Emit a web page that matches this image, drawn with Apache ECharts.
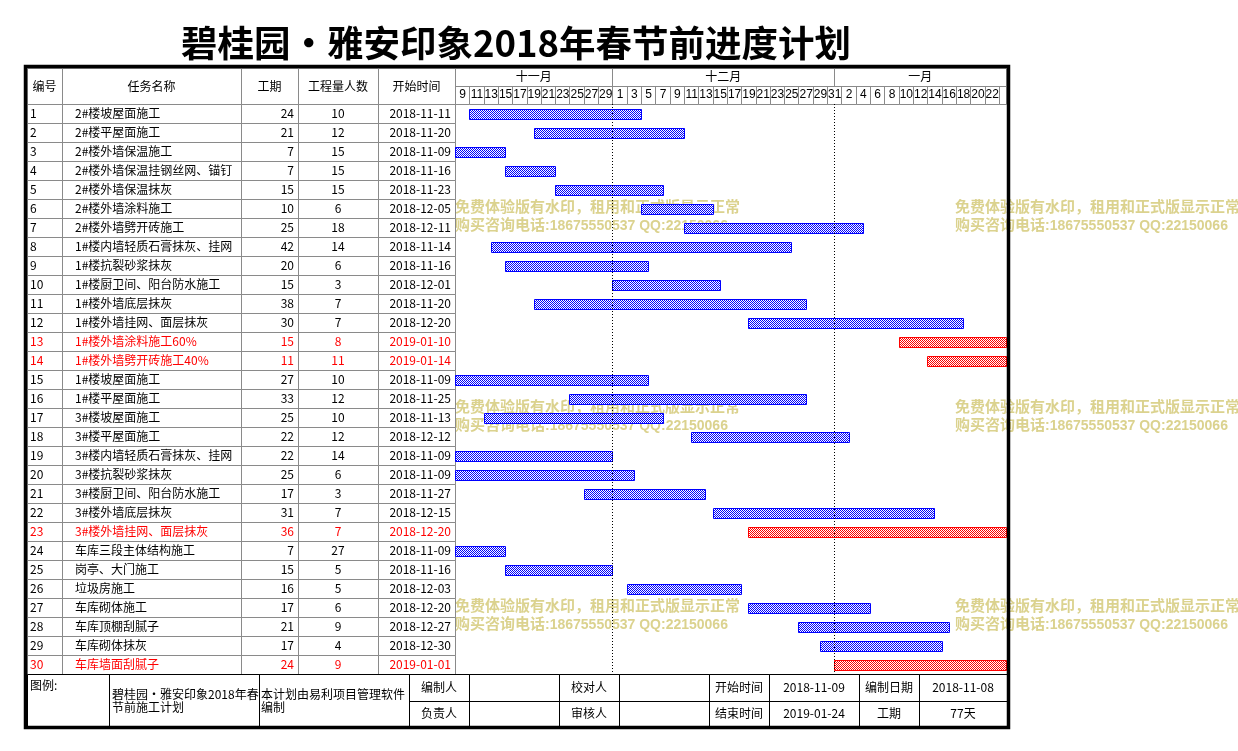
<!DOCTYPE html>
<html><head><meta charset="utf-8">
<script src="https://cdn.jsdelivr.net/npm/echarts@6/dist/echarts.min.js"></script>
<style>html,body{margin:0;padding:0;background:#fff}#c{width:1238px;height:751px}</style>
</head><body><div id="c"></div>
<script>
// ---------------- data ----------------
const chartTitle = '碧桂园•雅安印象2018年春节前进度计划';
const headerLabels = ['编号', '任务名称', '工期', '工程量人数', '开始时间'];
const taskIds = [1,2,3,4,5,6,7,8,9,10,11,12,13,14,15,16,17,18,19,20,21,22,23,24,25,26,27,28,29,30];
const taskNames = [
  '2#楼坡屋面施工','2#楼平屋面施工','2#楼外墙保温施工','2#楼外墙保温挂钢丝网、锚钉','2#楼外墙保温抹灰',
  '2#楼外墙涂料施工','2#楼外墙劈开砖施工','1#楼内墙轻质石膏抹灰、挂网','1#楼抗裂砂浆抹灰','1#楼厨卫间、阳台防水施工',
  '1#楼外墙底层抹灰','1#楼外墙挂网、面层抹灰','1#楼外墙涂料施工60%','1#楼外墙劈开砖施工40%','1#楼坡屋面施工',
  '1#楼平屋面施工','3#楼坡屋面施工','3#楼平屋面施工','3#楼内墙轻质石膏抹灰、挂网','3#楼抗裂砂浆抹灰',
  '3#楼厨卫间、阳台防水施工','3#楼外墙底层抹灰','3#楼外墙挂网、面层抹灰','车库三段主体结构施工','岗亭、大门施工',
  '垃圾房施工','车库砌体施工','车库顶棚刮腻子','车库砌体抹灰','车库墙面刮腻子'];
const durations = [24,21,7,7,15,10,25,42,20,15,38,30,15,11,27,33,25,22,22,25,17,31,36,7,15,16,17,21,17,24];
const workers   = [10,12,15,15,15,6,18,14,6,3,7,7,8,11,10,12,10,12,14,6,3,7,7,27,5,5,6,9,4,9];
const startDates = [
  '2018-11-11','2018-11-20','2018-11-09','2018-11-16','2018-11-23','2018-12-05','2018-12-11','2018-11-14',
  '2018-11-16','2018-12-01','2018-11-20','2018-12-20','2019-01-10','2019-01-14','2018-11-09','2018-11-25',
  '2018-11-13','2018-12-12','2018-11-09','2018-11-09','2018-11-27','2018-12-15','2018-12-20','2018-11-09',
  '2018-11-16','2018-12-03','2018-12-20','2018-12-27','2018-12-30','2019-01-01'];
const criticalTasks = [13,14,23,30];
const projectStart = '2018-11-09';
const projectEnd = '2019-01-24';
const monthLabels = ['十一月','十二月','一月'];
const monthStarts = ['2018-11-09','2018-12-01','2019-01-01'];
const dayTickLabels = ['9','11','13','15','17','19','21','23','25','27','29',
  '1','3','5','7','9','11','13','15','17','19','21','23','25','27','29','31',
  '2','4','6','8','10','12','14','16','18','20','22',''];
const footerLeft = ['图例:', '碧桂园•雅安印象2018年春\n节前施工计划', '本计划由易利项目管理软件\n编制'];
const footerRow1 = ['编制人','','校对人','','开始时间','2018-11-09','编制日期','2018-11-08'];
const footerRow2 = ['负责人','','审核人','','结束时间','2019-01-24','工期','77天'];
const watermarkLine1 = '免费体验版有水印，租用和正式版显示正常';
const watermarkLine2 = ['购买咨询电话', ':18675550537 QQ:22150066'];

// ---------------- helpers / layout ----------------
const FONT = '"Noto Sans CJK SC", "Liberation Sans", sans-serif';
const WM_FONT = '"Liberation Sans", "Noto Sans CJK SC", sans-serif';
const DAY = 86400000;
function utc(s){ const p = s.split('-').map(Number); return Date.UTC(p[0], p[1]-1, p[2]); }
const t0 = utc(projectStart);
function dayOffset(s){ return Math.round((utc(s) - t0) / DAY); }
const totalDays = dayOffset(projectEnd) + 1;

const colEdges = [0, 35, 214, 271, 351, 428];
const footEdges = [0, 82, 232, 382, 442, 532, 592, 682, 742, 832, 892, 980];
const GRAY = '#8a8a8a';

function crisp(x0, y0, x1, y1){
  const a = Math.round(x0), b = Math.round(y0), c = Math.round(x1), d = Math.round(y1);
  return {x: a + 0.5, y: b + 0.5, width: c - a, height: d - b};
}
function txt(x, y, text, align, valign, color, extra){
  return Object.assign({type:'text', x: x, y: y, silent:true, style: Object.assign({
    text: text, fill: color || '#000', fontSize: 12, fontFamily: FONT,
    align: align, verticalAlign: valign, textAlign: align, textVerticalAlign: valign
  }, extra || {})});
}
function checker(color){
  const c = document.createElement('canvas'); c.width = 2; c.height = 2;
  const g = c.getContext('2d');
  g.fillStyle = '#fff'; g.fillRect(0,0,2,2);
  g.fillStyle = color; g.fillRect(0,0,1,1); g.fillRect(1,1,1,1);
  return c;
}
const bluePat = {image: checker('#0000ff'), repeat: 'repeat'};
const redPat = {image: checker('#ff0000'), repeat: 'repeat'};

// ---------------- series ----------------
const tableBody = {
  type: 'custom', xAxisIndex: 2, yAxisIndex: 2, silent: true,
  data: taskIds.map((id, i) => [0, i]),
  renderItem: function(params, api){
    const i = params.dataIndex;
    const yc = api.coord([0, i])[1];
    const h = api.size([0, 1])[1];
    const xs = colEdges.map(e => api.coord([e, i])[0]);
    const y0 = yc - h/2, y1 = yc + h/2;
    const red = criticalTasks.indexOf(taskIds[i]) >= 0;
    const col = red ? '#ff0000' : '#000';
    const ch = [];
    for (let c = 0; c < 5; c++) {
      ch.push({type:'rect', shape: crisp(xs[c], y0, xs[c+1], y1), style:{fill:null, stroke:GRAY, lineWidth:1}});
    }
    ch.push(txt(xs[0] + 3, yc, String(taskIds[i]), 'left', 'middle', col));
    ch.push(txt(xs[1] + 13, yc, taskNames[i], 'left', 'middle', col));
    ch.push(txt(xs[3] - 4, yc, String(durations[i]), 'right', 'middle', col));
    ch.push(txt((xs[3] + xs[4]) / 2, yc, String(workers[i]), 'center', 'middle', col));
    ch.push(txt(xs[5] - 4, yc, startDates[i], 'right', 'middle', col));
    return {type:'group', children: ch};
  }
};

const tableHead = {
  type: 'custom', xAxisIndex: 3, yAxisIndex: 3, silent: true,
  data: [[0, 0]],
  renderItem: function(params, api){
    const xs = colEdges.map(e => api.coord([e, 0])[0]);
    const y0 = api.coord([0, 0])[1], y1 = api.coord([0, 1])[1];
    const ch = [];
    for (let c = 0; c < 5; c++) {
      ch.push({type:'rect', shape: crisp(xs[c], y0, xs[c+1], y1), style:{fill:null, stroke:GRAY, lineWidth:1}});
      ch.push(txt((xs[c] + xs[c+1]) / 2, (y0 + y1) / 2, headerLabels[c], 'center', 'middle'));
    }
    return {type:'group', children: ch};
  }
};

const monthOffsets = monthStarts.map(dayOffset);
const timelineMonths = {
  type: 'custom', xAxisIndex: 1, yAxisIndex: 1, silent: true,
  data: monthOffsets.map(o => [o, 0]),
  renderItem: function(params, api){
    const k = params.dataIndex;
    const s = api.value(0);
    const e = k + 1 < monthOffsets.length ? monthOffsets[k+1] : totalDays;
    const x0 = api.coord([s, 0])[0], x1 = api.coord([e, 0])[0];
    const y0 = api.coord([s, 0])[1], y1 = api.coord([s, 1])[1];
    return {type:'group', children:[
      {type:'rect', shape: crisp(x0, y0, x1, y1), style:{fill:null, stroke:GRAY, lineWidth:1}},
      txt((x0 + x1) / 2, (y0 + y1) / 2 - 1, monthLabels[k], 'center', 'middle')
    ]};
  }
};

const timelineDays = {
  type: 'custom', xAxisIndex: 1, yAxisIndex: 1, silent: true,
  data: dayTickLabels.map((l, k) => [k * 2, 1]),
  renderItem: function(params, api){
    const k = params.dataIndex;
    const s = api.value(0);
    const e = Math.min(s + 2, totalDays);
    const x0 = api.coord([s, 1])[0], x1 = api.coord([e, 1])[0];
    const y0 = api.coord([s, 1])[1], y1 = api.coord([s, 2])[1];
    return {type:'group', children:[
      {type:'rect', shape: crisp(x0, y0, x1, y1), style:{fill:null, stroke:GRAY, lineWidth:1}},
      txt((x0 + x1) / 2 + 0.5, (y0 + y1) / 2, dayTickLabels[k], 'center', 'middle', '#000', {fontFamily: '"Liberation Sans", sans-serif'})
    ]};
  }
};

const bars = {
  type: 'custom', xAxisIndex: 0, yAxisIndex: 0, silent: true, z: 3,
  data: taskIds.map((id, i) => [dayOffset(startDates[i]), i, durations[i]]),
  encode: {x: 0, y: 1},
  renderItem: function(params, api){
    const i = api.value(1);
    const s = api.value(0), d = api.value(2);
    const p0 = api.coord([s, i]);
    const p1 = api.coord([Math.min(s + d, totalDays), i]);
    const red = criticalTasks.indexOf(taskIds[i]) >= 0;
    const h = 10;
    return {type:'rect', shape: crisp(p0[0], p0[1] - h/2, p1[0], p0[1] + h/2),
      style: {fill: red ? redPat : bluePat, stroke: red ? '#ff0000' : '#0000ff', lineWidth: 1}};
  },
  markLine: {
    silent: true, symbol: ['none', 'none'], label: {show: false}, animation: false,
    lineStyle: {color: '#000', type: [1, 2], width: 1},
    data: monthOffsets.slice(1).map(o => ({xAxis: o}))
  }
};

const footer = {
  type: 'custom', xAxisIndex: 4, yAxisIndex: 4, silent: true,
  data: [[0, 0]],
  renderItem: function(params, api){
    const xs = footEdges.map(e => api.coord([e, 0])[0]);
    const ys = [0, 1, 2].map(r => api.coord([0, r])[1]);
    const ch = [];
    for (let k = 0; k < 3; k++) {
      ch.push({type:'rect', shape: crisp(xs[k], ys[0], xs[k+1], ys[2]), style:{fill:null, stroke:'#000', lineWidth:1}});
    }
    ch.push(txt(xs[0] + 3, ys[0] + 5, footerLeft[0], 'left', 'top'));
    ch.push(txt(xs[1] + 3, (ys[0] + ys[2]) / 2, footerLeft[1], 'left', 'middle', '#000', {lineHeight: 13}));
    ch.push(txt(xs[2] + 2, (ys[0] + ys[2]) / 2, footerLeft[2], 'left', 'middle', '#000', {lineHeight: 13}));
    const rows = [footerRow1, footerRow2];
    for (let r = 0; r < 2; r++) {
      for (let c = 3; c < footEdges.length - 1; c++) {
        ch.push({type:'rect', shape: crisp(xs[c], ys[r], xs[c+1], ys[r+1]), style:{fill:null, stroke:'#000', lineWidth:1}});
        const t = rows[r][c - 3];
        if (t) ch.push(txt((xs[c] + xs[c+1]) / 2, (ys[r] + ys[r+1]) / 2, t, 'center', 'middle'));
      }
    }
    return {type:'group', children: ch};
  }
};

// watermark + frame + title (decoration)
const WM_COLOR = '#dbd28e';
const graphics = [];
[455, 955].forEach(x => {
  [208, 408, 607].forEach(y => {
    graphics.push({type:'text', x: x, y: y, z: 1, silent: true,
      style: {text: watermarkLine1, fill: WM_COLOR, fontSize: 15, fontWeight: 'bold', fontFamily: WM_FONT,
        align: 'left', verticalAlign: 'middle', textAlign: 'left', textVerticalAlign: 'middle'}});
    graphics.push({type:'text', x: x, y: y + 18, z: 1, silent: true,
      style: {text: '{a|' + watermarkLine2[0] + '}{b|' + watermarkLine2[1] + '}',
        fill: WM_COLOR, fontWeight: 'bold', fontFamily: WM_FONT,
        align: 'left', verticalAlign: 'middle', textAlign: 'left', textVerticalAlign: 'middle',
        rich: {
          a: {fontSize: 15, fontWeight: 'bold', fontFamily: WM_FONT, fill: WM_COLOR, color: WM_COLOR},
          b: {fontSize: 14, fontWeight: 'bold', fontFamily: WM_FONT, fill: WM_COLOR, color: WM_COLOR}
        }}});
  });
});
graphics.push({type:'rect', z: 100, silent: true, shape: {x: 25.5, y: 66.5, width: 983, height: 661},
  style: {fill: null, stroke: '#000', lineWidth: 3.5}});
graphics.push({type:'text', x: 516, y: 43, z: 100, silent: true,
  style: {text: chartTitle, fill: '#000', fontSize: 36.5, fontWeight: 'bold', fontFamily: FONT,
    align: 'center', verticalAlign: 'middle', textAlign: 'center', textVerticalAlign: 'middle'}});

const chart = echarts.init(document.getElementById('c'), null, {renderer: 'canvas'});
chart.setOption({
  animation: false,
  backgroundColor: '#fff',
  grid: [
    {left: 455, top: 104, width: 551, height: 570, outerBoundsMode: 'none'},
    {left: 455, top: 68, width: 551, height: 36, outerBoundsMode: 'none'},
    {left: 27, top: 104, width: 428, height: 570, outerBoundsMode: 'none'},
    {left: 27, top: 68, width: 428, height: 36, outerBoundsMode: 'none'},
    {left: 27, top: 674, width: 980, height: 53, outerBoundsMode: 'none'}
  ],
  xAxis: [
    {gridIndex: 0, type: 'value', min: 0, max: totalDays, show: false},
    {gridIndex: 1, type: 'value', min: 0, max: totalDays, show: false},
    {gridIndex: 2, type: 'value', min: 0, max: 428, show: false},
    {gridIndex: 3, type: 'value', min: 0, max: 428, show: false},
    {gridIndex: 4, type: 'value', min: 0, max: 980, show: false}
  ],
  yAxis: [
    {gridIndex: 0, type: 'category', data: taskIds, inverse: true, show: false},
    {gridIndex: 1, type: 'value', min: 0, max: 2, inverse: true, show: false},
    {gridIndex: 2, type: 'category', data: taskIds, inverse: true, show: false},
    {gridIndex: 3, type: 'value', min: 0, max: 1, inverse: true, show: false},
    {gridIndex: 4, type: 'value', min: 0, max: 2, inverse: true, show: false}
  ],
  graphic: graphics,
  series: [tableBody, tableHead, timelineMonths, timelineDays, bars, footer]
});
</script></body></html>
